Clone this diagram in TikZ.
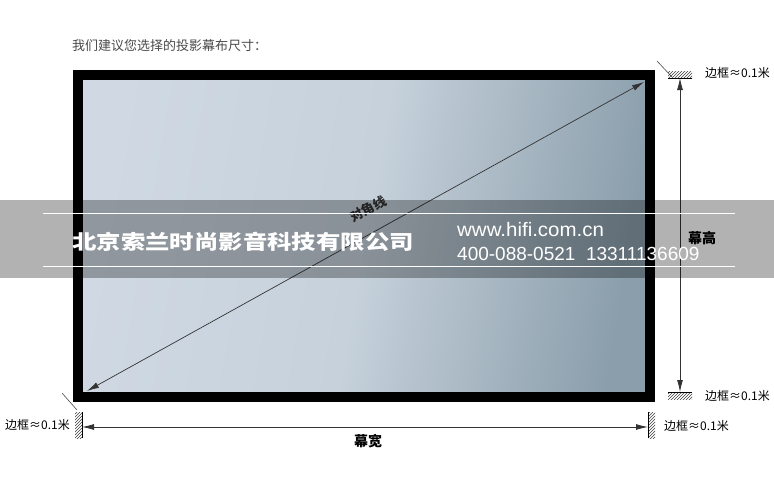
\documentclass[tikz,border=0pt]{standalone}
\usepackage{fontspec}
\setmainfont{Liberation Sans}
\newfontfamily\cjk{Noto Sans CJK SC}
\usetikzlibrary{arrows.meta,patterns}
\definecolor{titlegray}{HTML}{4A4A4A}
\definecolor{scrA}{HTML}{D0D9E3}
\definecolor{scrB}{HTML}{C6D1DB}
\definecolor{scrC}{HTML}{8A9EAB}
\definecolor{dimgray}{HTML}{333333}
\tikzset{
  lbl/.style={font=\cjk\fontsize{12}{12}\selectfont, text=black, inner sep=0pt},
  dimline/.style={draw=dimgray, line width=0.8pt, {Latex[length=12pt,width=6pt]}-{Latex[length=12pt,width=6pt]}},
  hatchbox/.style={pattern=north east lines, pattern color=black!75},
  ticks/.style={draw=black!70, line width=0.6pt},
  wm/.style={text=white, inner sep=0pt, anchor=west}
}
\begin{document}
\begin{tikzpicture}[x=1pt,y=-1pt]
\useasboundingbox (0,0) rectangle (774,480);
\fill[white] (0,0) rectangle (774,480);
% title
\node[lbl, text=titlegray, anchor=west, font=\cjk\fontsize{13}{13}\selectfont] (title) at (72,46) {我们建议您选择的投影幕布尺寸：};
% screen
\shade[shading=axis, left color=scrA, right color=scrC, middle color=scrB, shading angle=80] (78,75) rectangle (650,397);
\draw[line width=10pt, black] (78,75) rectangle (650,397);
\coordinate (bl) at (87,391);
\coordinate (tr) at (644,82);
\draw[dimline, line width=0.7pt] (bl) -- (tr);
\node[lbl, font=\cjk\bfseries\fontsize{13}{13}\selectfont, text=black!80, rotate=29] (diag) at (368,209) {对角线};
% corner ticks
\coordinate (t1a) at (657,61); \coordinate (t1b) at (672,77);
\draw[ticks] (t1a) -- (t1b);
\coordinate (t2a) at (62,393); \coordinate (t2b) at (77,410);
\draw[ticks] (t2a) -- (t2b);
% right hatches
\fill[hatchbox] (668,71) rectangle (692,78);
\draw[black, line width=0.8pt] (668,78) -- (692,78);
\fill[hatchbox] (668,392) rectangle (692,399);
\draw[black, line width=0.8pt] (668,392) -- (692,392);
\coordinate (vt) at (680,78);
\coordinate (vb) at (680,392);
\draw[dimline] (vt) -- (vb);
% bottom hatches
\fill[hatchbox] (75,412) rectangle (82,438);
\draw[black, line width=0.8pt] (82,412) -- (82,438);
\fill[hatchbox] (648,412) rectangle (655,438);
\draw[black, line width=0.8pt] (648,412) -- (648,438);
\coordinate (hl) at (82,427);
\coordinate (hr) at (648,427);
\draw[dimline] (hl) -- (hr);
% labels
\node[lbl, anchor=west] (b1) at (705,73) {边框≈0.1米};
\node[lbl, anchor=west] (b2) at (705,396) {边框≈0.1米};
\node[lbl, anchor=west] (b3) at (664,426) {边框≈0.1米};
\node[lbl, anchor=east] (b4) at (70,425) {边框≈0.1米};
\node[lbl, font=\cjk\bfseries\fontsize{14}{14}\selectfont] (h) at (702,238) {幕高};
\node[lbl, font=\cjk\bfseries\fontsize{14}{14}\selectfont] (w) at (368,441) {幕宽};
% watermark band
\fill[black, opacity=0.3] (0,200) rectangle (774,278);
\draw[white, line width=1pt] (43,213) -- (735,213);
\draw[white, line width=1pt] (43,266) -- (735,266);
\node[wm, font=\cjk\bfseries\fontsize{20}{20}\selectfont, xscale=1.22, transform shape] (co) at (72,242) {北京索兰时尚影音科技有限公司};
\node[wm, font=\fontsize{19.5}{19.5}\selectfont, xscale=1.05, transform shape] (url) at (457,230) {www.hifi.com.cn};
\node[wm, font=\fontsize{19}{19}\selectfont] (tel) at (457,254) {400-088-0521\ \ 13311136609};
\end{tikzpicture}
\end{document}
